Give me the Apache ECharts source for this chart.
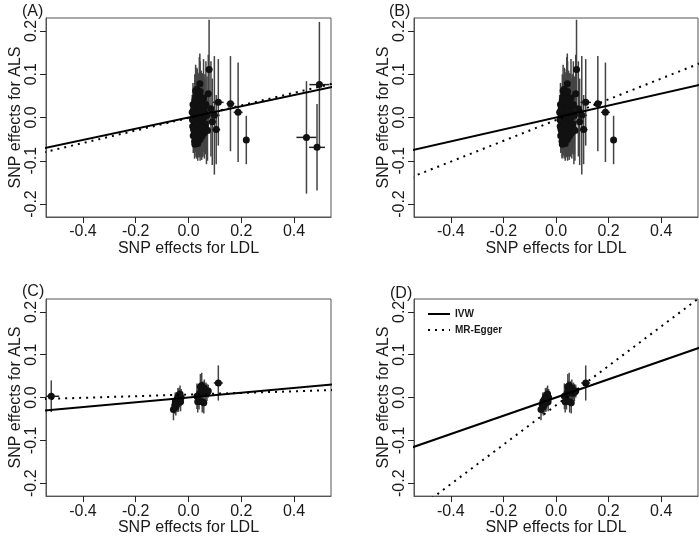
<!DOCTYPE html>
<html>
<head>
	<meta charset="utf-8">
	<title>MR scatter</title>
	<style>
		html, body { margin: 0; padding: 0; background: #fff; }
		#chart { width: 699px; height: 537px; }
	</style>
</head>
<body>
	<div id="chart"></div>
<script type="text/javascript" src="https://cdn.jsdelivr.net/npm/echarts@6/dist/echarts.min.js"></script>
<script type="text/javascript">
	// SNP set 1 (panels A, B): effect on LDL, effect on ALS, half-width of CI on ALS, half-width of CI on LDL
	var set1X  = [0.014,0.016,0.017,0.018,0.020,0.021,0.022,0.023,0.024,0.025,0.026,0.027,0.028,0.029,0.030,0.031,0.032,0.033,0.034,0.035,0.036,0.037,0.038,0.039,0.040,0.041,0.042,0.043,0.044,0.045,0.046,0.047,0.048,0.050,0.051,0.052,0.054,0.055,0.057,0.058,0.060,0.062,0.064,0.066,0.068,0.070,0.072,0.075,0.078,0.085,0.090,0.098,0.105,0.113,0.159,0.188,0.219,
	              0.015,0.019,0.022,0.026,0.029,0.033,0.036,0.040,0.044,0.049,0.053,0.058,0.019,0.024,0.031,0.038,0.045,0.052,0.027,0.035,0.042,0.050];
	var set1Y  = [0.012,-0.020,0.030,-0.042,0.005,0.022,-0.010,-0.055,0.040,-0.030,0.015,0.062,-0.018,0.000,0.025,-0.045,0.065,-0.005,0.045,-0.060,0.010,-0.025,0.032,-0.038,0.018,0.050,-0.012,0.078,-0.050,0.003,0.028,-0.030,0.038,-0.008,0.015,-0.042,0.022,-0.020,0.045,0.000,-0.035,0.010,-0.015,0.030,-0.028,0.005,-0.030,0.055,0.111,0.020,-0.010,0.005,-0.028,0.035,0.032,0.012,-0.052,
	              -0.005,0.018,-0.035,0.035,-0.048,0.052,-0.015,0.000,0.060,-0.022,0.008,0.020,-0.028,-0.062,0.008,-0.052,0.016,0.030,0.048,-0.032,-0.040,0.042];
	var set1CiY = [0.040,0.045,0.050,0.040,0.060,0.050,0.050,0.040,0.060,0.050,0.070,0.060,0.060,0.050,0.060,0.050,0.050,0.070,0.060,0.040,0.080,0.060,0.070,0.050,0.060,0.090,0.080,0.070,0.050,0.070,0.080,0.060,0.070,0.090,0.060,0.050,0.080,0.070,0.090,0.080,0.060,0.090,0.070,0.100,0.080,0.090,0.070,0.090,0.115,0.110,0.100,0.137,0.080,0.100,0.110,0.115,0.056,
	              0.040,0.045,0.040,0.050,0.040,0.060,0.050,0.060,0.070,0.050,0.060,0.070,0.040,0.030,0.050,0.040,0.060,0.050,0.050,0.040,0.050,0.060];
	var set1CiX = [0.004,0.004,0.004,0.004,0.005,0.005,0.005,0.005,0.005,0.005,0.005,0.006,0.006,0.006,0.006,0.006,0.006,0.006,0.006,0.007,0.007,0.007,0.007,0.007,0.007,0.007,0.008,0.008,0.008,0.008,0.008,0.008,0.008,0.009,0.009,0.009,0.009,0.010,0.010,0.010,0.010,0.011,0.011,0.011,0.012,0.012,0.013,0.013,0.012,0.014,0.015,0.020,0.015,0.020,0.015,0.017,0.010,
	              0.004,0.004,0.005,0.005,0.006,0.006,0.007,0.007,0.008,0.009,0.009,0.010,0.004,0.005,0.006,0.007,0.008,0.009,0.006,0.007,0.008,0.009];
	// extra SNPs only in panel A
	var extraX  = [0.447, 0.487, 0.496];
	var extraY  = [-0.046, -0.069, 0.076];
	var extraCiY = [0.130, 0.100, 0.145];
	var extraCiX = [0.038, 0.030, 0.038];

	// SNP set 2 (panels C, D)
	var set2X  = [-0.057,-0.052,-0.050,-0.048,-0.045,-0.042,-0.040,-0.038,-0.036,-0.034,-0.032,-0.030,-0.028,0.032,0.035,0.038,0.040,0.042,0.045,0.048,0.050,0.052,0.055,0.058,0.060,0.063,0.066,0.070,0.075,0.113];
	var set2Y  = [-0.028,-0.018,-0.010,-0.022,-0.005,-0.014,0.002,-0.008,0.005,-0.003,0.008,-0.010,0.000,0.003,-0.010,0.005,-0.008,0.010,0.025,0.020,0.028,-0.010,0.018,-0.012,0.022,0.010,0.015,0.012,0.015,0.034];
	var set2CiY = [0.025,0.020,0.022,0.020,0.018,0.020,0.020,0.025,0.018,0.020,0.020,0.022,0.020,0.030,0.025,0.020,0.020,0.020,0.030,0.020,0.030,0.025,0.020,0.025,0.020,0.020,0.020,0.020,0.015,0.041];
	var set2CiX = [0.005,0.005,0.005,0.004,0.004,0.004,0.004,0.004,0.004,0.004,0.004,0.004,0.004,0.005,0.005,0.005,0.005,0.005,0.005,0.005,0.005,0.005,0.005,0.006,0.006,0.006,0.006,0.006,0.006,0.017];
	// extra SNP only in panel C
	var extra2X = [-0.52], extra2Y = [0.003], extra2CiY = [0.037], extra2CiX = [0.030];

	// fitted lines per panel A..D: slope and intercept
	var ivwSlope   = [0.130, 0.138, 0.056, 0.213];
	var ivwInt     = [0.000, 0.000, 0.000, 0.000];
	var eggerSlope = [0.145, 0.240, 0.019, 0.460];
	var eggerInt   = [-0.001, -0.006, 0.007, -0.018];

	var panelNames = ['(A)', '(B)', '(C)', '(D)'];
	var xTicks = [-0.4, -0.2, 0.0, 0.2, 0.4];
	var yTicks = [-0.2, -0.1, 0.0, 0.1, 0.2];
	var xRange = [-0.54, 0.54];
	var yRange = [-0.23, 0.23];

	var FONT = 'Liberation Sans, Arial, sans-serif';
	var TXT = '#1a1a1a';

	function rows(xs, ys, cy, cx) {
		var out = [];
		for (var i = 0; i < xs.length; i++) out.push([xs[i], ys[i], cx[i], cy[i]]);
		return out;
	}
	var dataAB = rows(set1X, set1Y, set1CiY, set1CiX);
	var dataA = dataAB.concat(rows(extraX, extraY, extraCiY, extraCiX));
	var dataCD = rows(set2X, set2Y, set2CiY, set2CiX);
	var dataC = dataCD.concat(rows(extra2X, extra2Y, extra2CiY, extra2CiX));
	var panelData = [dataA, dataAB, dataC, dataCD];

	var grids = [
		{left: 46, top: 18, width: 285, height: 199},
		{left: 414, top: 18, width: 284, height: 199},
		{left: 46, top: 299, width: 285, height: 199},
		{left: 414, top: 299, width: 284, height: 199}
	];
	grids.forEach(function (g) { g.show = true; g.borderColor = '#555'; g.borderWidth = 1; });

	function errorBars(params, api) {
		var x = api.value(0), y = api.value(1), ex = api.value(2), ey = api.value(3);
		var a = api.coord([x, y - ey]), b = api.coord([x, y + ey]);
		var c = api.coord([x - ex, y]), d = api.coord([x + ex, y]);
		return {
			type: 'group',
			children: [
				{type: 'line', shape: {x1: a[0], y1: a[1], x2: b[0], y2: b[1]}, style: {stroke: '#444', lineWidth: 1.5}},
				{type: 'line', shape: {x1: c[0], y1: c[1], x2: d[0], y2: d[1]}, style: {stroke: '#222', lineWidth: 1.5}}
			]
		};
	}

	var xAxes = [], yAxes = [], series = [], titles = [];
	for (var p = 0; p < 4; p++) {
		xAxes.push({
			type: 'value', gridIndex: p, min: xRange[0], max: xRange[1],
			name: 'SNP effects for LDL', nameLocation: 'middle', nameGap: 23,
			nameTextStyle: {fontFamily: FONT, fontSize: 16, color: TXT},
			axisLine: {show: true, onZero: false, lineStyle: {color: '#555', width: 1}},
			axisTick: {show: true, length: 6, lineStyle: {color: '#222', width: 1}, customValues: xTicks},
			axisLabel: {fontFamily: FONT, fontSize: 16, color: TXT, margin: 7, customValues: xTicks,
				formatter: function (v) { return v.toFixed(1); }},
			splitLine: {show: false}
		});
		yAxes.push({
			type: 'value', gridIndex: p, min: yRange[0], max: yRange[1],
			name: 'SNP effects for ALS', nameLocation: 'middle', nameGap: 21,
			nameTextStyle: {fontFamily: FONT, fontSize: 16, color: TXT},
			axisLine: {show: true, onZero: false, lineStyle: {color: '#555', width: 1}},
			axisTick: {show: true, length: 6, lineStyle: {color: '#222', width: 1}, customValues: yTicks},
			axisLabel: {fontFamily: FONT, fontSize: 16, color: TXT, margin: 6, rotate: 90, customValues: yTicks,
				formatter: function (v) { return v.toFixed(1); }},
			splitLine: {show: false}
		});
		series.push({
			type: 'custom', xAxisIndex: p, yAxisIndex: p, clip: true, silent: true,
			renderItem: errorBars, encode: {x: 0, y: 1}, data: panelData[p], z: 1
		});
		series.push({
			type: 'scatter', xAxisIndex: p, yAxisIndex: p, symbolSize: 7,
			itemStyle: {color: '#111', opacity: 1}, data: panelData[p], z: 2
		});
		series.push({
			name: 'IVW', type: 'line', xAxisIndex: p, yAxisIndex: p, symbol: 'none', clip: true,
			itemStyle: {color: '#000'},
			lineStyle: {color: '#000', width: 2, type: 'solid'}, z: 3,
			data: [[-0.6, ivwInt[p] - 0.6 * ivwSlope[p]], [0.6, ivwInt[p] + 0.6 * ivwSlope[p]]]
		});
		series.push({
			name: 'MR-Egger', type: 'line', xAxisIndex: p, yAxisIndex: p, symbol: 'none', clip: true,
			itemStyle: {color: '#000'},
			lineStyle: {color: '#000', width: 2, type: [2, 5]}, z: 3,
			data: [[-0.6, eggerInt[p] - 0.6 * eggerSlope[p]], [0.6, eggerInt[p] + 0.6 * eggerSlope[p]]]
		});
	}
	titles = [
		{text: panelNames[0], left: 17, top: -1},
		{text: panelNames[1], left: 384, top: -1},
		{text: panelNames[2], left: 17, top: 279},
		{text: panelNames[3], left: 385, top: 281}
	];
	titles.forEach(function (t) { t.textStyle = {fontFamily: FONT, fontSize: 16, fontWeight: 'normal', color: TXT}; });

	var myChart = echarts.init(document.getElementById('chart'));
	myChart.setOption({
		animation: false,
		backgroundColor: '#fff',
		title: titles,
		legend: {
			data: ['IVW', 'MR-Egger'],
			orient: 'vertical', left: 422, top: 304, itemWidth: 22, itemHeight: 8, itemGap: 6,
			itemStyle: {opacity: 0},
			textStyle: {fontFamily: FONT, fontSize: 10, fontWeight: 'bold', color: TXT}
		},
		grid: grids,
		xAxis: xAxes,
		yAxis: yAxes,
		series: series
	});
</script>
</body>
</html>
